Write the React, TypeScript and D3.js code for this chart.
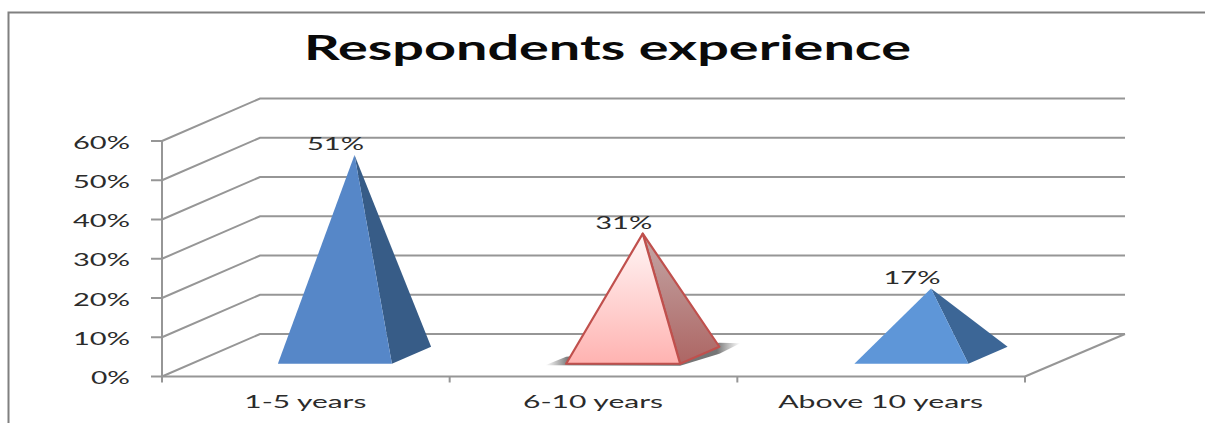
import React from "react";
import * as d3 from "d3";

const categories = ["1-5 years", "6-10 years", "Above 10 years"];
const shares = [51, 31, 17];
const seriesStyle = ["blueA", "rose", "blueB"];
const yTicks = [0, 10, 20, 30, 40, 50, 60];
const categoryLabelWidths = [122, 140, 205];

const WIDTH = 1205;
const HEIGHT = 423;
const GRID = "#969696";
const TEXT = "#2b2b2b";
const FONT = "Lato, 'Open Sans', sans-serif";

// Front plane of the 3D plot box, plus the screen offset of its full depth.
const x = d3.scaleBand<string>().domain(categories).range([162, 1025]);
const markX = d3.scalePoint<string>().domain(categories).range([305.5, 882]);
const y = d3.scaleLinear().domain([0, 60]).range([376.5, 141]);
const DEPTH_X = 98;
const DEPTH_Y = -42.5;
const BACK_RIGHT_EXTRA = 2;

const project = (px: number, value: number, depth: number): [number, number] => [
  px + DEPTH_X * depth,
  y(value) + DEPTH_Y * depth,
];
const poly = (pts: [number, number][]) => d3.line()(pts)! + "Z";

// Pyramid footprint within a category band, as depth fractions and half width.
const NEAR = 0.3;
const FAR = 0.7;
const MID = (NEAR + FAR) / 2;
const HALF = 57;

const faces: Record<string, { front: string; side: string; stroke: string }> = {
  blueA: { front: "#5687c8", side: "#375c87", stroke: "none" },
  rose: { front: "url(#roseFront)", side: "url(#roseSide)", stroke: "#c0504d" },
  blueB: { front: "#5e96d8", side: "#3c6696", stroke: "none" },
};

function Pyramid({ index }: { index: number }) {
  const name = categories[index];
  const value = shares[index];
  const cx = markX(name)!;
  const style = faces[seriesStyle[index]];
  const a = project(cx - HALF, 0, NEAR);
  const b = project(cx + HALF, 0, NEAR);
  const c = project(cx + HALF, 0, FAR);
  const top = project(cx, value, MID);
  const isRose = seriesStyle[index] === "rose";
  const sw = isRose ? 2.2 : 0;
  return (
    <g strokeLinejoin="round">
      {isRose && (
        <path
          d={poly([
            [a[0] - 21, a[1] + 1.5],
            [a[0], a[1] - 7],
            [c[0], c[1] - 4],
            [c[0] + 21, c[1] - 3.5],
            [c[0], c[1] + 7],
            [b[0], b[1] + 2],
          ])}
          fill="url(#roseShadow)"
        />
      )}
      <path d={poly([b, c, top])} fill={style.side} stroke={style.stroke} strokeWidth={sw} />
      <path d={poly([a, b, top])} fill={style.front} stroke={style.stroke} strokeWidth={sw} />
      <text
        x={top[0] - 19}
        y={top[1] - 5}
        textAnchor="middle"
        fontFamily={FONT}
        fontSize={18}
        fill={TEXT}
        textLength={57}
        lengthAdjust="spacingAndGlyphs"
      >
        {value}%
      </text>
    </g>
  );
}

export default function App() {
  const [xMin, xMax] = x.range();
  return (
    <svg
      width={WIDTH}
      height={HEIGHT}
      viewBox={`0 0 ${WIDTH} ${HEIGHT}`}
      style={{ position: "absolute", left: 0, top: 0, display: "block", background: "#fff" }}
    >
      <defs>
        <linearGradient id="roseFront" x1="0" y1="0" x2="0" y2="1">
          <stop offset="0" stopColor="#fff6f6" />
          <stop offset="1" stopColor="#ffb3b1" />
        </linearGradient>
        <linearGradient id="roseSide" x1="0" y1="0" x2="0" y2="1">
          <stop offset="0" stopColor="#c4a7a6" />
          <stop offset="1" stopColor="#ad6664" />
        </linearGradient>
        <linearGradient id="roseShadow" x1="0" y1="0" x2="1" y2="0">
          <stop offset="0" stopColor="#777" stopOpacity="0" />
          <stop offset="0.12" stopColor="#666" stopOpacity="0.9" />
          <stop offset="0.88" stopColor="#666" stopOpacity="0.9" />
          <stop offset="1" stopColor="#777" stopOpacity="0" />
        </linearGradient>
      </defs>

      {/* outer chart frame, open on the right and bottom */}
      <path d={`M8.5 423V12.5H${WIDTH}`} fill="none" stroke="#808080" strokeWidth={2} />

      <text
        x={607.5}
        y={60}
        textAnchor="middle"
        fontFamily={FONT}
        fontWeight={700}
        fontSize={35}
        fill="#0a0a0a"
        textLength={607}
        lengthAdjust="spacingAndGlyphs"
      >
        Respondents experience
      </text>

      {/* side wall and back wall gridlines */}
      <g fill="none" stroke={GRID} strokeWidth={2}>
        {yTicks.map((t) => {
          const p0 = project(xMin, t, 0);
          const p1 = project(xMin, t, 1);
          const p2 = project(xMax + BACK_RIGHT_EXTRA, t, 1);
          return <path key={t} d={d3.line()([p0, p1, p2])!} />;
        })}
        <path d={d3.line()([project(xMax, 0, 0), project(xMax + BACK_RIGHT_EXTRA, 0, 1)])!} />
        <path d={d3.line()([project(xMin, 0, 0), project(xMin, 60, 0)])!} />
        <path d={d3.line()([[xMin, y(0)], [xMax, y(0)]])!} />
        {yTicks.map((t) => (
          <path key={`tick-${t}`} d={d3.line()([[xMin - 11, y(t)], [xMin, y(t)]])!} />
        ))}
        {[...categories.map((c) => x(c)!), xMax].map((v) => (
          <path key={`xtick-${v}`} d={d3.line()([[v, y(0)], [v, y(0) + 6]])!} />
        ))}
      </g>

      {yTicks.map((t) => (
        <text
          key={t}
          x={130}
          y={y(t) + 7.5}
          textAnchor="end"
          fontFamily={FONT}
          fontSize={18}
          fill={TEXT}
          textLength={t === 0 ? 39 : 57}
          lengthAdjust="spacingAndGlyphs"
        >
          {t}%
        </text>
      ))}

      {categories.map((_, i) => (
        <Pyramid key={i} index={i} />
      ))}

      {categories.map((c, i) => (
        <text
          key={c}
          x={x(c)! + x.bandwidth() / 2 - 0.5}
          y={408}
          textAnchor="middle"
          fontFamily={FONT}
          fontSize={18}
          fill={TEXT}
          textLength={categoryLabelWidths[i]}
          lengthAdjust="spacingAndGlyphs"
        >
          {c}
        </text>
      ))}
    </svg>
  );
}
